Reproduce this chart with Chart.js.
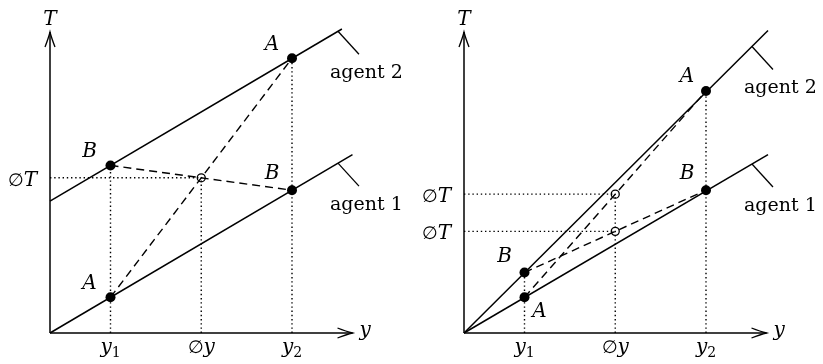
<!DOCTYPE html>
<html><head><meta charset="utf-8">
<script src="https://cdn.jsdelivr.net/npm/chart.js@4"></script>
<style>
body{margin:0;background:#fff;width:823px;height:364px;overflow:hidden;position:relative}
canvas{position:absolute;top:0}
</style></head>
<body>
<canvas id="left" width="412" height="364" style="left:0"></canvas>
<canvas id="right" width="411" height="364" style="left:412px"></canvas>
<script>
// ---- shared data ----
const tickValues = [2, 5, 8];                 // y1, ∅y, y2
const tickLabels = [['y', '1'], ['∅', 'y'], ['y', '2']];
const axisEndX = 10;
const axisEndY = 9.95;
const agentLabelX = 9.52;                     // where the label leaders touch the lines

// ---- left panel data ----
const leftAgent1Line = [[0, 0], [10, 5.9]];
const leftAgent2Line = [[0, 4.36], [9.65, 10.05]];
const leftA = [[2, 1.18], [8, 9.08]];         // agent 1 at y1, agent 2 at y2
const leftB = [[2, 5.54], [8, 4.72]];         // agent 2 at y1, agent 1 at y2
const leftAvg = [[5, 5.13]];

// ---- right panel data ----
const rightAgent1Line = [[0, 0], [10.05, 5.9]];
const rightAgent2Line = [[0, 0], [10.05, 10.0]];
const rightA = [[2, 1.18], [8, 8.0]];
const rightB = [[2, 2.0], [8, 4.72]];
const rightAvg = [[5, 4.59], [5, 3.36]];

const SERIF = '"DejaVu Serif", "Liberation Serif", serif';
const F = (size, italic) => (italic ? 'italic ' : '') + size + 'px ' + SERIF;

function pts(arr) { return arr.map(p => ({x: p[0], y: p[1]})); }

function drawRich(ctx, parts, x, y, align) {
  let w = 0;
  parts.forEach(p => { ctx.font = p.font; p.w = ctx.measureText(p.t).width; w += p.w; });
  let cx = align === 'center' ? x - w / 2 : align === 'right' ? x - w : x;
  parts.forEach(p => {
    ctx.font = p.font; ctx.textAlign = 'left'; ctx.textBaseline = 'alphabetic';
    ctx.fillText(p.t, cx, y + (p.dy || 0));
    cx += p.w;
  });
}

function lineAt(line, x) {
  const [a, b] = line;
  return a[1] + (b[1] - a[1]) * (x - a[0]) / (b[0] - a[0]);
}

function makePanel(id, cfg) {
  const lineStyle = {showLine: true, pointRadius: 0, borderColor: '#000', fill: false, clip: false};
  const guides = [];
  tickValues.forEach(tv => {
    let top = 0;
    cfg.A.concat(cfg.B, cfg.avg).forEach(p => { if (p[0] === tv && p[1] > top) top = p[1]; });
    guides.push([[tv, 0], [tv, top]]);
  });
  cfg.avg.forEach(p => guides.push([[0, p[1]], [p[0], p[1]]]));

  const datasets = [];
  guides.forEach(g => datasets.push(Object.assign({data: pts(g), borderWidth: 1.4, borderDash: [1.4, 2.8]}, lineStyle)));
  datasets.push(Object.assign({data: pts([[0, 0], [axisEndX, 0]]), borderWidth: 1.5}, lineStyle));
  datasets.push(Object.assign({data: pts([[0, 0], [0, axisEndY]]), borderWidth: 1.5}, lineStyle));
  datasets.push(Object.assign({data: pts(cfg.agent1), borderWidth: 1.5}, lineStyle));
  datasets.push(Object.assign({data: pts(cfg.agent2), borderWidth: 1.5}, lineStyle));
  datasets.push(Object.assign({data: pts(cfg.A), borderWidth: 1.4, borderDash: [8, 5]}, lineStyle));
  datasets.push(Object.assign({data: pts(cfg.B), borderWidth: 1.4, borderDash: [8, 5]}, lineStyle));
  datasets.push({data: pts(cfg.avg), showLine: false, pointRadius: 4, pointBorderWidth: 1.3,
    pointBackgroundColor: '#fff', pointBorderColor: '#000', clip: false});
  datasets.push({data: pts(cfg.A.concat(cfg.B)), showLine: false, pointRadius: 5,
    pointBackgroundColor: '#000', pointBorderColor: '#000', pointBorderWidth: 0, clip: false});

  const labelPlugin = {
    id: 'labels',
    afterDraw(chart) {
      const ctx = chart.ctx, xs = chart.scales.x, ys = chart.scales.y;
      const X = v => xs.getPixelForValue(v), Y = v => ys.getPixelForValue(v);
      ctx.save();
      ctx.fillStyle = '#000'; ctx.strokeStyle = '#000'; ctx.lineWidth = 1.3;
      // arrowheads
      const tx = X(axisEndX), ty = Y(0);
      ctx.beginPath();
      ctx.moveTo(tx - 15, ty - 5); ctx.quadraticCurveTo(tx - 6, ty - 1.5, tx, ty);
      ctx.quadraticCurveTo(tx - 6, ty + 1.5, tx - 15, ty + 5); ctx.stroke();
      const ux = X(0), uy = Y(axisEndY);
      ctx.beginPath();
      ctx.moveTo(ux - 5, uy + 15); ctx.quadraticCurveTo(ux - 1.5, uy + 6, ux, uy);
      ctx.quadraticCurveTo(ux + 1.5, uy + 6, ux + 5, uy + 15); ctx.stroke();
      // axis names
      drawRich(ctx, [{t: 'T', font: F(20, true)}], ux, uy - 7, 'center');
      drawRich(ctx, [{t: 'y', font: F(20, true)}], tx + 7, ty + 3, 'left');
      // tick labels
      tickValues.forEach((tv, i) => {
        const l = tickLabels[i];
        let parts;
        if (l[0] === '∅') parts = [{t: '∅', font: F(18, false)}, {t: l[1], font: F(20, true)}];
        else parts = [{t: l[0], font: F(20, true)}, {t: l[1], font: F(14, false), dy: 4}];
        drawRich(ctx, parts, X(tv), ty + 20, 'center');
      });
      // ∅T labels
      cfg.avg.forEach(p => {
        drawRich(ctx, [{t: '∅', font: F(18, false)}, {t: 'T', font: F(20, true)}], X(0) - 13, Y(p[1]) + 8, 'right');
      });
      // point labels
      const names = [['A', cfg.A, cfg.offA], ['B', cfg.B, cfg.offB]];
      ctx.font = F(20, true); ctx.textAlign = 'center'; ctx.textBaseline = 'middle';
      names.forEach(([n, arr, offs]) => {
        arr.forEach((p, i) => ctx.fillText(n, X(p[0]) + offs[i][0], Y(p[1]) + offs[i][1]));
      });
      // agent labels with leaders
      [['agent 1', cfg.agent1], ['agent 2', cfg.agent2]].forEach(([txt, line]) => {
        const ax = X(agentLabelX), ay = Y(lineAt(line, agentLabelX));
        ctx.beginPath(); ctx.moveTo(ax, ay); ctx.lineTo(ax + 21, ay + 23); ctx.stroke();
        ctx.font = F(19, false); ctx.textAlign = 'left'; ctx.textBaseline = 'alphabetic';
        ctx.fillText(txt, ax - 8, ay + 47);
      });
      ctx.restore();
    }
  };

  return new Chart(document.getElementById(id), {
    type: 'scatter',
    data: {datasets},
    options: {
      responsive: false, animation: false, devicePixelRatio: 1, events: [],
      layout: {padding: cfg.padding},
      plugins: {legend: {display: false}, tooltip: {enabled: false}},
      scales: {
        x: {type: 'linear', min: 0, max: 11, display: false},
        y: {type: 'linear', min: 0, max: 10.5, display: false}
      }
    },
    plugins: [labelPlugin]
  });
}

makePanel('left', {
  agent1: leftAgent1Line, agent2: leftAgent2Line, A: leftA, B: leftB, avg: leftAvg,
  offA: [[-21, -14], [-20, -14]], offB: [[-21, -14], [-20, -16]],
  padding: {left: 50, right: 29.25, top: 15.375, bottom: 31}
});
makePanel('right', {
  agent1: rightAgent1Line, agent2: rightAgent2Line, A: rightA, B: rightB, avg: rightAvg,
  offA: [[15, 14], [-19, -14]], offB: [[-20, -16], [-19, -16]],
  padding: {left: 52, right: 26.25, top: 15.375, bottom: 31}
});
</script>
</body></html>
